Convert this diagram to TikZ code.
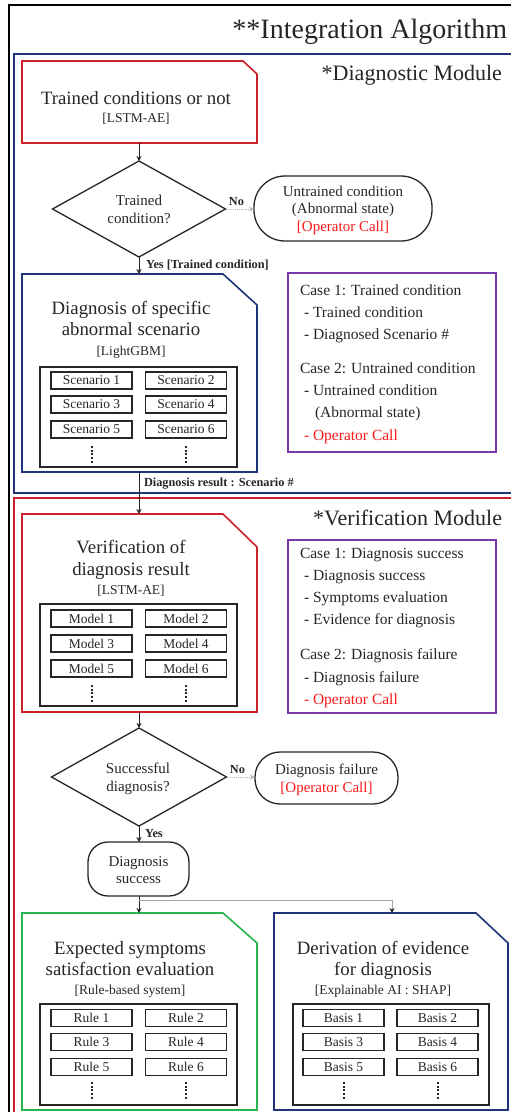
\documentclass[tikz,border=0pt]{standalone}
\usepackage{fontspec}
\setmainfont{Liberation Serif}
\usetikzlibrary{arrows.meta}

\definecolor{modred}{RGB}{205,32,40}
\definecolor{modnavy}{RGB}{32,52,122}
\definecolor{casepurple}{RGB}{122,56,170}
\definecolor{evalgreen}{RGB}{40,182,80}
\definecolor{callred}{RGB}{255,24,24}
\definecolor{ink}{RGB}{38,38,38}

\tikzset{
  every node/.style={inner sep=0pt, outer sep=0pt, text=ink},
  slot/.style={draw=none, rectangle},
  boxline/.style={line width=1.6pt, line join=miter},
  ttl/.style={font=\fontsize{28}{30}\selectfont},
  modttl/.style={font=\fontsize{22}{24}\selectfont},
  head/.style={font=\fontsize{18.8}{20}\selectfont},
  sub/.style={font=\fontsize{13.5}{15}\selectfont},
  body/.style={font=\fontsize{15}{17}\selectfont},
  casetxt/.style={font=\fontsize{15.5}{17}\selectfont},
  lbl/.style={font=\bfseries\fontsize{12.3}{14}\selectfont},
  cell/.style={draw=ink, line width=1.5pt, minimum width=81pt, minimum height=17pt,
               font=\fontsize{13.5}{15}\selectfont},
  grp/.style={draw=ink, line width=1.3pt},
  term/.style={draw=ink, line width=1.3pt},
  casebox/.style={draw=casepurple, line width=1.4pt},
  arr/.style={draw=ink, line width=0.8pt, -{Stealth[length=5pt,width=5pt]}},
  noarr/.style={draw=gray!55, line width=0.9pt, densely dotted,
                -{Stealth[length=5pt,width=5pt,open]}},
  branch/.style={draw=gray!70, line width=0.8pt, -{Stealth[length=5pt,width=5pt,color=ink]}},
}

% box with its upper right corner cut off: name, cut width, cut height, colour
\newcommand\cutcornerbox[4]{%
  \draw[boxline, draw=#4] (#1.south west) -- (#1.north west)
    -- ([xshift=-#2pt]#1.north east) -- ([yshift=-#3pt]#1.north east)
    -- (#1.south east) -- cycle;}

% a column of five small square dots starting at the given point
\newcommand\dotcolumn[2]{%
  \foreach \k in {0,...,4}{\fill[ink] ({#1-1},{#2+\k*3.7}) rectangle ({#1+1},{#2+\k*3.7+2});}}

% six labelled cells in two columns, followed by vertical dots
% prefix, word, left x, right x, row 1 y, row 2 y, row 3 y, dots start y
\newcommand\cellgrid[8]{%
  \node[cell] (#1-1) at (#3,#5) {#2 1};
  \node[cell] (#1-2) at (#4,#5) {#2 2};
  \node[cell] (#1-3) at (#3,#6) {#2 3};
  \node[cell] (#1-4) at (#4,#6) {#2 4};
  \node[cell] (#1-5) at (#3,#7) {#2 5};
  \node[cell] (#1-6) at (#4,#7) {#2 6};
  \dotcolumn{#3}{#8}
  \dotcolumn{#4}{#8}}

\begin{document}
\begin{tikzpicture}[x=1pt,y=-1pt]
\useasboundingbox (0,0) rectangle (511,1112);
\clip (0,0) rectangle (511,1112);
\fill[white] (0,0) rectangle (511,1112);

% ---------- frames ----------
\draw[black, line width=2.4pt] (9,5) rectangle (560,1160);
\draw[modnavy, line width=2pt] (14,53.5) rectangle (560,493);
\draw[modred, line width=2pt] (14,498) rectangle (560,1160);

\node[ttl, anchor=base east] (title) at (507,38) {**Integration Algorithm};
\node[modttl, anchor=base east] (diagttl) at (502,80) {*Diagnostic Module};
\node[modttl, anchor=base east] (verttl) at (502,525) {*Verification Module};

% ---------- diagnostic module ----------
\node[slot, minimum width=235pt, minimum height=82pt] (b1) at (139.5,102) {};
\cutcornerbox{b1}{14}{13}{modred}
\node[head, anchor=base] (b1a) at (136,104) {Trained conditions or not};
\node[sub, anchor=base] (b1b) at (136,122.5) {[LSTM-AE]};

\node[slot, minimum width=173pt, minimum height=96pt] (d1) at (139,209) {};
\draw[line width=1.3pt, draw=ink] (d1.north) -- (d1.east) -- (d1.south) -- (d1.west) -- cycle;
\node[body, anchor=base] (d1a) at (139,205) {Trained};
\node[body, anchor=base] (d1b) at (139,223) {condition?};

\node[term, minimum width=178pt, minimum height=65pt, rounded corners=31pt] (t1) at (343,208.5) {};
\node[body, anchor=base] (t1a) at (343,196.5) {Untrained condition};
\node[body, anchor=base] (t1b) at (343,213.5) {(Abnormal state)};
\node[body, anchor=base, text=callred] (t1c) at (343,231) {[Operator Call]};

\node[slot, minimum width=235pt, minimum height=198pt] (b2) at (139.5,373) {};
\cutcornerbox{b2}{34}{31}{modnavy}
\node[head, anchor=base] (b2a) at (131,314) {Diagnosis of specific};
\node[head, anchor=base] (b2b) at (131,335) {abnormal scenario};
\node[sub, anchor=base] (b2c) at (131,355) {[LightGBM]};
\node[grp, minimum width=197pt, minimum height=100pt] (g2) at (138.5,417) {};
\cellgrid{sc}{Scenario}{91.5}{186}{380.5}{404.5}{429.5}{446}

\node[casebox, minimum width=208pt, minimum height=179pt] (p1) at (392,362.5) {};
\node[casetxt, anchor=base west] (p1a) at (300,295) {Case 1: Trained condition};
\node[casetxt, anchor=base west] (p1b) at (304,317.5) {- Trained condition};
\node[casetxt, anchor=base west] (p1c) at (304,339) {- Diagnosed Scenario \#};
\node[casetxt, anchor=base west] (p1d) at (300,373) {Case 2: Untrained condition};
\node[casetxt, anchor=base west] (p1e) at (304,395.5) {- Untrained condition};
\node[casetxt, anchor=base west] (p1f) at (315,417) {(Abnormal state)};
\node[casetxt, anchor=base west, text=callred] (p1g) at (304,440) {- Operator Call};

% ---------- verification module ----------
\node[slot, minimum width=235pt, minimum height=198pt] (b3) at (139.5,613) {};
\cutcornerbox{b3}{34}{33}{modred}
\node[head, anchor=base] (b3a) at (131,553) {Verification of};
\node[head, anchor=base] (b3b) at (131,575) {diagnosis result};
\node[sub, anchor=base] (b3c) at (131,594) {[LSTM-AE]};
\node[grp, minimum width=197pt, minimum height=102pt] (g3) at (138.5,655) {};
\cellgrid{md}{Model}{91.5}{186}{618.5}{643.5}{668.5}{685}

\node[casebox, minimum width=208pt, minimum height=173pt] (p2) at (392,626.5) {};
\node[casetxt, anchor=base west] (p2a) at (300,558) {Case 1: Diagnosis success};
\node[casetxt, anchor=base west] (p2b) at (304,580) {- Diagnosis success};
\node[casetxt, anchor=base west] (p2c) at (304,602.5) {- Symptoms evaluation};
\node[casetxt, anchor=base west] (p2d) at (304,624.5) {- Evidence for diagnosis};
\node[casetxt, anchor=base west] (p2e) at (300,659.5) {Case 2: Diagnosis failure};
\node[casetxt, anchor=base west] (p2f) at (304,682) {- Diagnosis failure};
\node[casetxt, anchor=base west, text=callred] (p2g) at (304,704.5) {- Operator Call};

\node[slot, minimum width=175pt, minimum height=98pt] (d2) at (139,777) {};
\draw[line width=1.3pt, draw=ink] (d2.north) -- (d2.east) -- (d2.south) -- (d2.west) -- cycle;
\node[body, anchor=base] (d2a) at (138,773.5) {Successful};
\node[body, anchor=base] (d2b) at (138,791) {diagnosis?};

\node[term, minimum width=143pt, minimum height=52pt, rounded corners=25pt] (t2) at (326.5,778) {};
\node[body, anchor=base] (t2a) at (326.5,774) {Diagnosis failure};
\node[body, anchor=base, text=callred] (t2b) at (326.5,792) {[Operator Call]};

\node[term, minimum width=101pt, minimum height=54pt, rounded corners=20pt] (t3) at (138.5,869) {};
\node[body, anchor=base] (t3a) at (138.5,866) {Diagnosis};
\node[body, anchor=base] (t3b) at (138.5,883) {success};

\node[slot, minimum width=235pt, minimum height=197pt] (b4) at (139.5,1011.5) {};
\cutcornerbox{b4}{34}{30}{evalgreen}
\node[head, anchor=base] (b4a) at (130,954) {Expected symptoms};
\node[head, anchor=base] (b4b) at (130,975) {satisfaction evaluation};
\node[sub, anchor=base] (b4c) at (130,994) {[Rule-based system]};
\node[grp, minimum width=197pt, minimum height=101pt] (g4) at (138.5,1054.5) {};
\cellgrid{rl}{Rule}{91.5}{186}{1018}{1042}{1067}{1082}

\node[slot, minimum width=234pt, minimum height=197pt] (b5) at (391,1011.5) {};
\cutcornerbox{b5}{32}{30}{modnavy}
\node[head, anchor=base] (b5a) at (383,954) {Derivation of evidence};
\node[head, anchor=base] (b5b) at (383,975) {for diagnosis};
\node[sub, anchor=base] (b5c) at (383,994) {[Explainable AI : SHAP]};
\node[grp, minimum width=196pt, minimum height=101pt] (g5) at (391,1054.5) {};
\cellgrid{bs}{Basis}{343.5}{437.5}{1018}{1042}{1067}{1082}

% ---------- connectors ----------
\draw[arr] (b1.south -| d1.north) -- (d1.north);
\draw[noarr] (d1.east) -- (t1.west |- d1.east);
\node[lbl, anchor=base] (no1) at (236.5,205) {No};
\draw[arr] (d1.south) -- (d1.south |- b2.north);
\node[lbl, anchor=base west] (yes1) at (146,268) {Yes [Trained condition]};
\draw[arr] (b2.south -| d1.south) -- (b3.north -| d1.south);
\node[lbl, anchor=base west] (res) at (144,486) {Diagnosis result : Scenario \#};
\draw[arr] (b3.south -| d2.north) -- (d2.north);
\draw[noarr] (d2.east) -- (t2.west |- d2.east);
\node[lbl, anchor=base] (no2) at (237.5,773) {No};
\draw[arr] (d2.south) -- (d2.south |- t3.north);
\node[lbl, anchor=base west] (yes2) at (145,837) {Yes};
\draw[arr] (t3.south -| d2.south) -- (b4.north -| d2.south);
\coordinate (fork) at (139,900);
\coordinate (forkend) at (392,900);
\draw[branch] (fork) -- (forkend) -- (forkend |- b5.north);
\end{tikzpicture}
\end{document}
